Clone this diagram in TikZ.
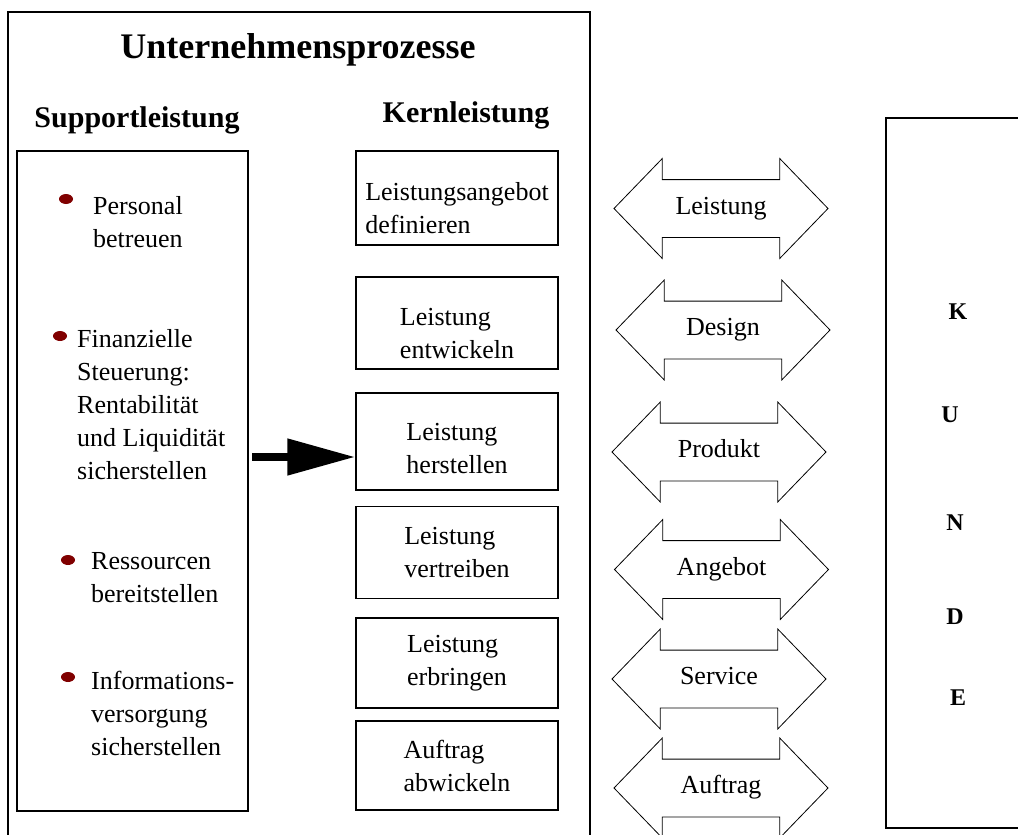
\documentclass[tikz,border=0pt]{standalone}
\usepackage{fontspec}
\setmainfont{Liberation Serif}
\usetikzlibrary{shapes.arrows,shapes.geometric,arrows.meta}
\definecolor{bulletred}{RGB}{128,0,0}
\newcommand{\lowerby}[1]{\rule{0pt}{\dimexpr 18pt+2\dimexpr #1\relax\relax}}
\begin{document}
\begin{tikzpicture}[x=1pt,y=-1pt,
    font=\fontsize{26}{33}\selectfont,
    frame/.style={draw,line width=2pt,inner sep=0pt},
    head/.style={font=\fontsize{30}{30}\selectfont\bfseries},
    kernbox/.style={draw,line width=1.5pt,minimum width=202pt,inner sep=0pt,align=left},
    item/.style={anchor=north west,inner sep=0pt,align=left},
    bulletdot/.style={ellipse,fill=bulletred,minimum width=14pt,minimum height=10pt,inner sep=0pt},
    flow/.style={double arrow,draw,line width=0.8pt,inner xsep=0pt,inner ysep=16pt,
      text height=18pt,text depth=7pt,minimum height=214pt,
      double arrow head extend=21pt,double arrow tip angle=92,double arrow head indent=0pt},
    letter/.style={font=\fontsize{24}{24}\selectfont\bfseries},
    bigarrow/.style={line width=8pt,-{Triangle[length=68pt,width=35pt]}}]
  \useasboundingbox (0,0) rectangle (1018,835);
  \draw[line width=2pt] (8,845) |- (590,12) -- (590,845);
  \node[font=\fontsize{36}{36}\selectfont\bfseries] (title) at (298,50) {Unternehmensprozesse};
  \node[head] (supporttitle) at (137,120) {Supportleistung};
  \node[head] (kerntitle) at (466,115) {Kernleistung};
  \node[frame,minimum width=231pt,minimum height=660pt] (support) at (132.5,481) {};
  \path
    (66,199) node[bulletdot] (b1) {}
    (60,336) node[bulletdot] (b2) {}
    (68,560) node[bulletdot] (b3) {}
    (68,677) node[bulletdot] (b4) {};
  \path
    (93,196) node[item] (s1) {Personal\\betreuen}
    (77,329) node[item] (s2) {Finanzielle\\Steuerung:\\Rentabilität\\und Liquidität\\sicherstellen}
    (91,552) node[item] (s3) {Ressourcen\\bereitstellen}
    (91,671) node[item] (s4) {Informations-\\versorgung\\sicherstellen};
  \path
    (457,198) node[kernbox,minimum height=94pt] (k1) {\lowerby{10pt}Leistungsangebot\\definieren}
    (457,323) node[kernbox,minimum height=92pt] (k2) {\lowerby{10pt}Leistung\\entwickeln}
    (457,441.5) node[kernbox,minimum height=97pt] (k3) {\lowerby{7pt}Leistung\\herstellen}
    (457,552.5) node[kernbox,minimum height=92pt] (k4) {Leistung\\vertreiben}
    (457,663) node[kernbox,minimum height=90pt] (k5) {Leistung\\erbringen}
    (457,765.5) node[kernbox,minimum height=89pt] (k6) {Auftrag\\abwickeln};
  \coordinate (tail) at (252,457);
  \draw[bigarrow] (tail) -- (tail -| k3.west);
  \path
    (721,208.5) node[flow] (f1) {Leistung}
    (723,330) node[flow] (f2) {Design}
    (719,452) node[flow] (f3) {Produkt}
    (721.5,569.5) node[flow] (f4) {Angebot}
    (719,679) node[flow] (f5) {Service}
    (721,788) node[flow] (f6) {Auftrag};
  \node[frame,minimum width=154pt,minimum height=710pt] (kunde) at (963,473) {};
  \path
    (958,312) node[letter] (l1) {K}
    (950,415) node[letter] (l2) {U}
    (955,523) node[letter] (l3) {N}
    (955,617) node[letter] (l4) {D}
    (958,698) node[letter] (l5) {E};
\end{tikzpicture}
\end{document}
